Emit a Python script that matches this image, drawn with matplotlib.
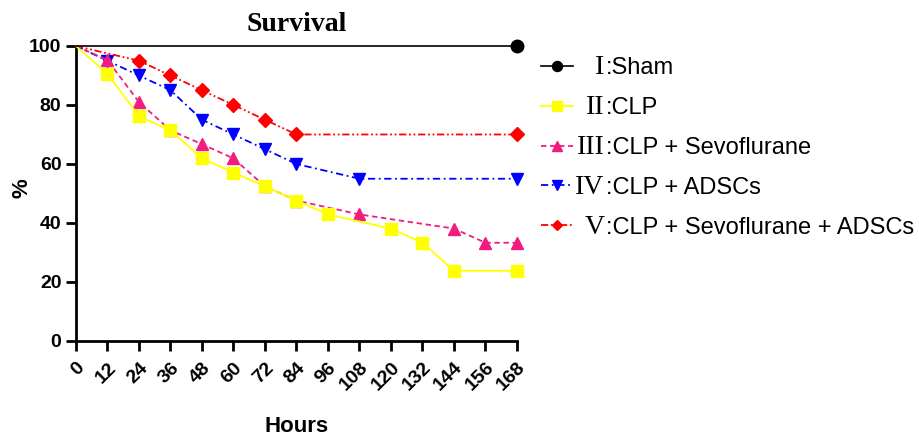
"""Survival curves"""
import matplotlib.pyplot as plt
from matplotlib.transforms import IdentityTransform

plt.rcParams['font.family'] = 'Liberation Sans'

hours = [0, 12, 24, 36, 48, 60, 72, 84, 96, 108, 120, 132, 144, 156, 168]

sham_h = [0, 168]
sham = [100, 100]

clp_h = [0, 12, 24, 36, 48, 60, 72, 84, 96, 120, 132, 144, 168]
clp = [100, 90.5, 76.2, 71.4, 61.9, 57.1, 52.4, 47.6, 42.9, 38.1, 33.3, 23.8, 23.8]

sevo_h = [0, 12, 24, 36, 48, 60, 72, 84, 108, 144, 156, 168]
sevo = [100, 95.2, 81.0, 71.4, 66.7, 61.9, 52.4, 47.6, 42.9, 38.1, 33.3, 33.3]

adsc_h = [0, 12, 24, 36, 48, 60, 72, 84, 108, 168]
adsc = [100, 95, 90, 85, 75, 70, 65, 60, 55, 55]

combo_h = [0, 24, 36, 48, 60, 72, 84, 168]
combo = [100, 95, 90, 85, 80, 75, 70, 70]

numerals = ['I', 'II', 'III', 'IV', 'V']
names = [':Sham', ':CLP', ':CLP + Sevoflurane', ':CLP + ADSCs', ':CLP + Sevoflurane + ADSCs']

fig = plt.figure(figsize=(9.2, 4.41), dpi=100)
ax = fig.add_axes([0.0826, 0.2268, 0.4793, 0.6689])

# first point (100% at 0 h) has no marker
ax.plot(sham_h, sham, color='black', lw=1.2, marker='o', ms=9, markevery=[1],
        clip_on=False, zorder=5, label=names[0])
ax.plot(clp_h, clp, color='#FFFF00', lw=1.3, marker='s', ms=9, markevery=slice(1, None),
        clip_on=False, zorder=4, label=names[1])
ax.plot(sevo_h, sevo, color='#F21C7E', lw=1.3, ls=(0, (3, 2)), marker='^', ms=9,
        markevery=slice(1, None), clip_on=False, zorder=3, label=names[2])
ax.plot(adsc_h, adsc, color='#0000FF', lw=1.3, ls=(0, (4, 2, 1, 2)), marker='v', ms=9,
        markevery=slice(1, None), clip_on=False, zorder=2, label=names[3])
ax.plot(combo_h, combo, color='#FF0000', lw=1.3, ls=(0, (4, 1.5, 1, 1.5, 1, 1.5)),
        marker='D', ms=7, markevery=slice(1, None), clip_on=False, zorder=2, label=names[4])

ax.set_xlim(0, 168)
ax.set_ylim(0, 100)
ax.set_xticks(hours)
ax.set_xticklabels([str(h) for h in hours], rotation=45, ha='right',
                   rotation_mode='anchor', fontsize=14, fontweight='bold')
ax.set_yticks([0, 20, 40, 60, 80, 100])
ax.set_yticklabels(['0', '20', '40', '60', '80', '100'], fontsize=14, fontweight='bold')
ax.tick_params(direction='out', length=7, width=2)
ax.tick_params(axis='x', pad=6)
ax.spines['top'].set_visible(False)
ax.spines['right'].set_visible(False)
ax.spines['left'].set_linewidth(2)
ax.spines['bottom'].set_linewidth(2)

ax.set_title('Survival', fontsize=20, fontweight='bold', family='Liberation Serif', pad=11)
ax.set_xlabel('Hours', fontsize=16, fontweight='bold', labelpad=16)
ax.set_ylabel('%', fontsize=16, fontweight='bold')
ax.yaxis.set_label_coords(-0.0975, 0.519)

leg = ax.legend(loc='upper left', bbox_to_anchor=(1.034, 0.995), frameon=False, fontsize=17,
                handlelength=1.36, labelspacing=0.76, handletextpad=1.36,
                borderaxespad=0, markerscale=0.8)

# roman numerals in serif, right-aligned just before each label, on the same baseline
fig.canvas.draw()
descent = 0.21 * 17 * fig.dpi / 72
for num, txt in zip(numerals, leg.get_texts()):
    bb = txt.get_window_extent()
    fig.text(bb.x0 - 1, bb.y0 + descent, num, transform=IdentityTransform(), ha='right',
             va='baseline', fontsize=20, family='Liberation Serif')

plt.savefig('out.png', dpi=100)
plt.close()
